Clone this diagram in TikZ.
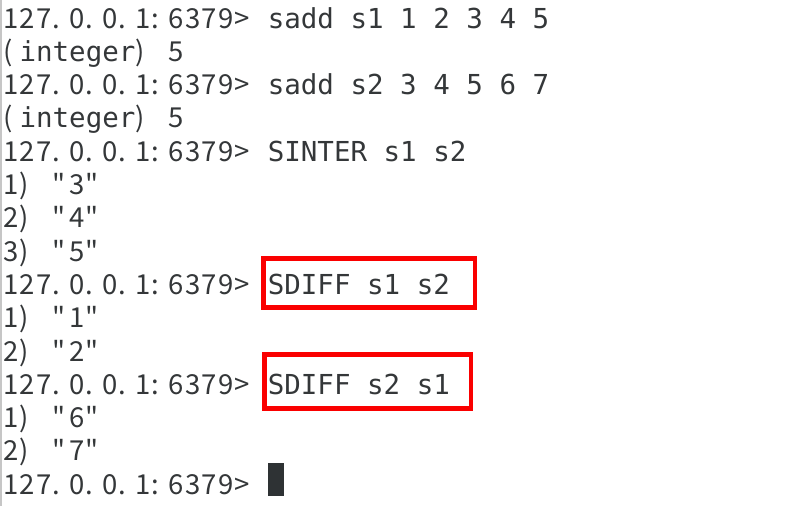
\documentclass[tikz,border=0pt]{standalone}
\usepackage{fontspec}
\newfontfamily\termmono{DejaVu Sans Mono}
\newfontfamily\termsans{Noto Sans CJK SC}
\definecolor{termgray}{RGB}{52,55,57}
\definecolor{boxred}{RGB}{250,0,0}
\definecolor{cursorgray}{RGB}{46,50,52}
\newlength\cellw
\setlength\cellw{16.55pt}
\makeatletter
% one character per terminal cell
\newcommand\cellstr[1]{\@tfor\cellch:=#1\do{\makebox[\cellw][l]{\cellch}}}
\makeatother
\newcommand\prompt{\cellstr{127.0.0.1:6379>}}

\begin{document}
\begin{tikzpicture}[x=1pt,y=-1pt,
  term/.style={anchor=base west, inner sep=0pt, outer sep=0pt, text=termgray},
  cmdtext/.style={term, font=\termmono\fontsize{27.5}{33}\selectfont},
  outtext/.style={term, font=\termsans\fontsize{27.5}{33}\selectfont},
  redbox/.style={draw=boxred, line width=4.6pt}]
  \useasboundingbox (0,0) rectangle (793,509);

  % Window edge
  \draw[gray!45, line width=1.5pt] (1,0) -- (1,506);

  % sadd s1
  \node[outtext] (p1) at (3,28) {\prompt};
  \node[cmdtext] (c1) at (267.8,28) {sadd s1 1 2 3 4 5};
  \node[outtext] (r1) at (3,61.3) {\cellstr{(}{\termmono integer}\cellstr{){}5}};

  % sadd s2
  \node[outtext] (p2) at (3,94.6) {\prompt};
  \node[cmdtext] (c2) at (267.8,94.6) {sadd s2 3 4 5 6 7};
  \node[outtext] (r2) at (3,127.9) {\cellstr{(}{\termmono integer}\cellstr{){}5}};

  % SINTER
  \node[outtext] (p3) at (3,161.2) {\prompt};
  \node[cmdtext] (c3) at (267.8,161.2) {SINTER s1 s2};
  \node[outtext] (r3a) at (3,194.5) {\cellstr{1){}"3"}};
  \node[outtext] (r3b) at (3,227.8) {\cellstr{2){}"4"}};
  \node[outtext] (r3c) at (3,261.1) {\cellstr{3){}"5"}};

  % SDIFF s1 s2
  \node[outtext] (p4) at (3,294.4) {\prompt};
  \node[cmdtext] (c4) at (267.8,294.4) {SDIFF s1 s2};
  \node[outtext] (r4a) at (3,327.7) {\cellstr{1){}"1"}};
  \node[outtext] (r4b) at (3,361) {\cellstr{2){}"2"}};

  % SDIFF s2 s1
  \node[outtext] (p5) at (3,394.3) {\prompt};
  \node[cmdtext] (c5) at (267.8,394.3) {SDIFF s2 s1};
  \node[outtext] (r5a) at (3,427.6) {\cellstr{1){}"6"}};
  \node[outtext] (r5b) at (3,460.9) {\cellstr{2){}"7"}};

  % Last prompt and cursor
  \node[outtext] (p6) at (3,494.2) {\prompt};
  \fill[cursorgray] (268,463) rectangle (284,496);

  % Highlight boxes
  \draw[redbox] (263.5,258.5) rectangle (475,307.5);
  \draw[redbox] (264.5,354.5) rectangle (471,408.5);
\end{tikzpicture}
\end{document}
